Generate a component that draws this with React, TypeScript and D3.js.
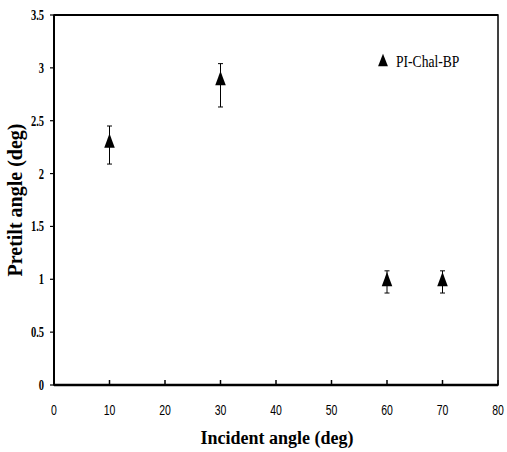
import React from "react";
import * as d3 from "d3";

const incident = [10, 30, 60, 70];
const pretilt = [2.29, 2.88, 0.98, 0.98];
const errLow = [2.09, 2.63, 0.87, 0.87];
const errHigh = [2.45, 3.04, 1.08, 1.08];
const xTicks = [0, 10, 20, 30, 40, 50, 60, 70, 80];
const yTicks = [0, 0.5, 1, 1.5, 2, 2.5, 3, 3.5];
const seriesName = "PI-Chal-BP";

export default function App() {
  const W = 507, H = 452;
  const L = 54, R = 498, T = 15, B = 385;
  const x = d3.scaleLinear().domain([0, 80]).range([L, R]);
  const y = d3.scaleLinear().domain([0, 3.5]).range([B, T]);
  const tri = d3.symbol().type(d3.symbolTriangle).size(75)();
  const font = "'Liberation Serif', 'Times New Roman', serif";
  const sans = "'Liberation Sans', Arial, sans-serif";
  return (
    <svg width={W} height={H} style={{ position: "absolute", left: 0, top: 0, background: "#fff" }}>
      <rect x={L} y={T} width={R - L} height={B - T} fill="none" stroke="#000" strokeWidth={1.5} />
      <line x1={L} x2={L} y1={T} y2={B} stroke="#000" strokeWidth={2} />
      <line x1={L} x2={R} y1={B} y2={B} stroke="#000" strokeWidth={2.5} />
      <line x1={L} x2={R} y1={T} y2={T} stroke="#000" strokeWidth={2} />
      {xTicks.map((t) => (
        <g key={"x" + t}>
          <line x1={x(t)} x2={x(t)} y1={B} y2={B - 5} stroke="#000" strokeWidth={1.5} />
          <text x={x(t)} y={415} textAnchor="middle" fontFamily={sans} fontSize={15} transform={`translate(${x(t)},0) scale(0.7,1) translate(${-x(t)},0)`}>{t}</text>
        </g>
      ))}
      {yTicks.map((t) => (
        <g key={"y" + t}>
          <line x1={L} x2={L - 4} y1={y(t)} y2={y(t)} stroke="#000" strokeWidth={1.2} />
          <text x={44} y={y(t) + 5} textAnchor="end" fontFamily={font} fontSize={14} fontWeight="bold" transform={`translate(44,0) scale(0.75,1) translate(-44,0)`}>{t}</text>
        </g>
      ))}
      {incident.map((v, i) => (
        <g key={"p" + i}>
          <line x1={x(v)} x2={x(v)} y1={y(errLow[i])} y2={y(errHigh[i])} stroke="#000" strokeWidth={1} />
          <line x1={x(v) - 2.5} x2={x(v) + 2.5} y1={y(errLow[i])} y2={y(errLow[i])} stroke="#000" strokeWidth={1} />
          <line x1={x(v) - 2.5} x2={x(v) + 2.5} y1={y(errHigh[i])} y2={y(errHigh[i])} stroke="#000" strokeWidth={1} />
          <path d={tri!} transform={`translate(${x(v)},${y(pretilt[i])}) scale(0.8,1.25)`} fill="#000" />
        </g>
      ))}
      <path d={tri!} transform={`translate(383,62) scale(0.75,1.1)`} fill="#000" />
      <text x={396} y={67} fontFamily={font} fontSize={17} transform="translate(396,0) scale(0.8,1) translate(-396,0)">{seriesName}</text>
      <text x={277} y={444} textAnchor="middle" fontFamily={font} fontSize={18} fontWeight="bold">Incident angle (deg)</text>
      <text transform={`translate(22,${(T + B) / 2}) rotate(-90)`} textAnchor="middle" fontFamily={font} fontSize={20} fontWeight="bold">Pretilt angle (deg)</text>
    </svg>
  );
}
